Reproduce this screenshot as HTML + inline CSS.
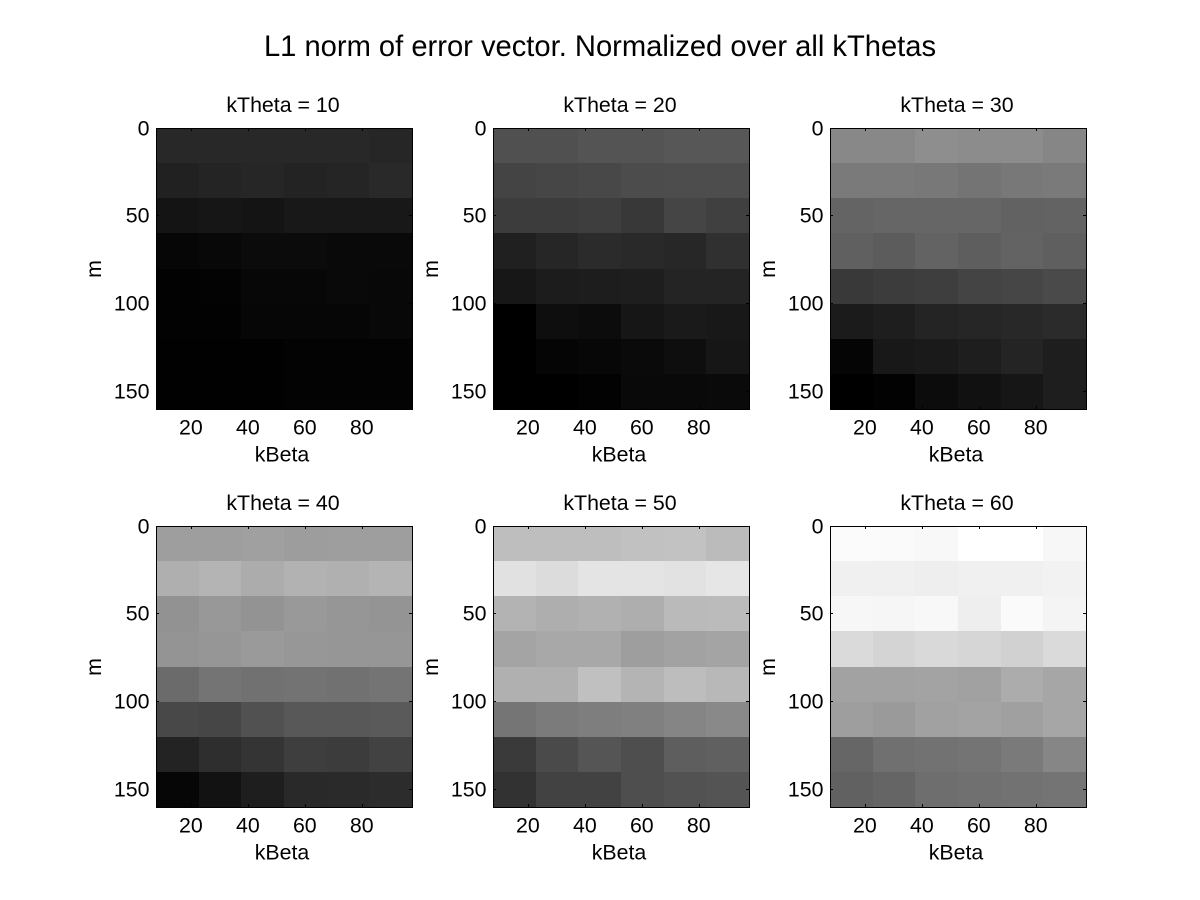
<!DOCTYPE html>
<html lang="en">
<head>
<meta charset="utf-8">
<title>L1 norm of error vector</title>
<style>
  html, body { margin: 0; padding: 0; background: #fff; width: 1200px; height: 900px; overflow: hidden; }
  svg { display: block; }
  text { font-family: "Liberation Sans", Arial, sans-serif; fill: #000; }
</style>
</head>
<body>
<svg id="figure" width="1200" height="900" viewBox="0 0 1200 900" xmlns="http://www.w3.org/2000/svg">
  <rect x="0" y="0" width="1200" height="900" fill="#fff"/>
  <text x="600" y="56" text-anchor="middle" font-size="29.15">L1 norm of error vector. Normalized over all kThetas</text>
</svg>
<script>
// kBeta and m cell centres
const kBetaValues = [15, 30, 45, 60, 75, 90];
const mValues = [11, 31, 51, 71, 91, 111, 131, 151];
const xTickValues = [20, 40, 60, 80];
const yTickValues = [0, 50, 100, 150];
const panelTitles = ['kTheta = 10', 'kTheta = 20', 'kTheta = 30', 'kTheta = 40', 'kTheta = 50', 'kTheta = 60'];

// Normalized error, expressed on the 0-255 colormap index
const errorTheta10 = [
  [40, 40, 40, 40, 40, 38],
  [33, 36, 38, 35, 37, 41],
  [20, 22, 20, 24, 24, 24],
  [6, 8, 11, 11, 9, 9],
  [2, 3, 7, 7, 9, 8],
  [2, 2, 6, 6, 6, 8],
  [1, 1, 1, 3, 3, 3],
  [1, 1, 1, 3, 3, 3]
];
const errorTheta20 = [
  [80, 80, 84, 84, 87, 87],
  [68, 70, 72, 76, 77, 77],
  [60, 60, 62, 56, 69, 64],
  [32, 38, 43, 41, 39, 48],
  [23, 28, 29, 30, 36, 36],
  [0, 14, 12, 22, 26, 24],
  [0, 5, 7, 10, 14, 22],
  [0, 0, 2, 9, 9, 10]
];
const errorTheta30 = [
  [136, 136, 142, 140, 140, 134],
  [122, 122, 120, 116, 120, 122],
  [100, 102, 102, 102, 98, 99],
  [96, 92, 99, 94, 99, 95],
  [57, 60, 62, 68, 70, 74],
  [27, 30, 36, 38, 40, 43],
  [5, 24, 26, 30, 36, 30],
  [0, 2, 12, 17, 22, 30]
];
const errorTheta40 = [
  [158, 158, 160, 157, 158, 158],
  [175, 180, 172, 178, 176, 180],
  [146, 152, 147, 153, 150, 148],
  [148, 150, 154, 151, 150, 150],
  [107, 116, 113, 115, 113, 116],
  [72, 70, 81, 88, 88, 90],
  [35, 46, 52, 62, 60, 66],
  [6, 18, 30, 41, 42, 44]
];
const errorTheta50 = [
  [190, 190, 190, 193, 194, 187],
  [225, 220, 228, 228, 226, 230],
  [179, 174, 177, 174, 186, 187],
  [164, 168, 168, 158, 162, 164],
  [176, 176, 192, 180, 189, 184],
  [117, 123, 126, 128, 133, 137],
  [58, 74, 85, 78, 94, 96],
  [50, 66, 66, 78, 82, 84]
];
const errorTheta60 = [
  [251, 250, 248, 255, 255, 247],
  [240, 240, 238, 240, 240, 242],
  [247, 246, 248, 238, 250, 244],
  [218, 212, 217, 214, 209, 218],
  [162, 162, 163, 161, 172, 166],
  [158, 154, 161, 163, 160, 166],
  [102, 112, 114, 116, 122, 134],
  [97, 101, 110, 112, 114, 116]
];
const panelData = [errorTheta10, errorTheta20, errorTheta30, errorTheta40, errorTheta50, errorTheta60];

const svg = document.getElementById('figure');
const NS = 'http://www.w3.org/2000/svg';
const colLeft = col => 156.3 + col * 337;
const rowTop = row => 128.3 + row * 398;
const plotW = 256.3;
const plotH = 281.6;
const cellDx = kBetaValues[1] - kBetaValues[0];
const cellDy = mValues[1] - mValues[0];
const xMin = kBetaValues[0] - cellDx / 2;
const xMax = kBetaValues[kBetaValues.length - 1] + cellDx / 2;
const yMin = mValues[0] - cellDy / 2;
const yMax = mValues[mValues.length - 1] + cellDy / 2;

function gray(v) {
  const g = Math.max(0, Math.min(255, Math.round(v)));
  return 'rgb(' + g + ',' + g + ',' + g + ')';
}

function make(tag, attrs, parent) {
  const el = document.createElementNS(NS, tag);
  for (const k in attrs) el.setAttribute(k, attrs[k]);
  parent.appendChild(el);
  return el;
}

panelData.forEach((matrix, idx) => {
  const col = idx % 3;
  const row = Math.floor(idx / 3);
  const left = colLeft(col);
  const top = rowTop(row);
  const xScale = v => left + (v - xMin) * plotW / (xMax - xMin);
  const yScale = v => top + (v - yMin) * plotH / (yMax - yMin);
  const bx0 = Math.floor(left), bx1 = Math.floor(left + plotW);
  const by0 = Math.floor(top), by1 = Math.floor(top + plotH);

  const g = make('g', {}, svg);
  
  

  const cells = make('g', { 'shape-rendering': 'crispEdges' }, g);
  
  
  matrix.forEach((rowVals, r) => {
    rowVals.forEach((val, c) => {
      const x0 = Math.floor(xScale(kBetaValues[c] - cellDx / 2));
      const x1 = Math.floor(xScale(kBetaValues[c] + cellDx / 2));
      const y0 = Math.floor(yScale(mValues[r] - cellDy / 2));
      const y1 = Math.floor(yScale(mValues[r] + cellDy / 2));
      const cell = make('rect', { x: x0, y: y0, width: x1 - x0, height: y1 - y0, fill: gray(val) }, cells);
      
      
    });
  });

  const box = make('rect', {
    x: bx0 + 0.5, y: by0 + 0.5, width: bx1 - bx0, height: by1 - by0,
    fill: 'none', stroke: '#000', 'stroke-width': 1, 'shape-rendering': 'crispEdges'
  }, g);
  
  

  xTickValues.forEach((t) => {
    const px = Math.floor(xScale(t)) + 0.5;
    [[by0, by0 + 3], [by1, by1 - 3]].forEach((ends) => {
      const tick = make('line', { x1: px, x2: px, y1: ends[0], y2: ends[1], stroke: '#000', 'stroke-width': 1, 'shape-rendering': 'crispEdges' }, g);
      
      
    });
    const label = make('text', { x: xScale(t) - 1, y: by1 + 25.3, 'text-anchor': 'middle', 'font-size': 21.33 }, g);
    
    
    label.textContent = t;
  });

  yTickValues.forEach((t) => {
    const raw = yScale(t);
    const py = Math.max(by0, Math.round(raw));
    if (raw >= by0) {
      [[bx0, bx0 + 3], [bx1, bx1 - 3]].forEach((ends) => {
        const tick = make('line', { x1: ends[0], x2: ends[1], y1: py + 0.5, y2: py + 0.5, stroke: '#000', 'stroke-width': 1, 'shape-rendering': 'crispEdges' }, g);
        
        
      });
    }
    const label = make('text', { x: bx0 - 6.5, y: py + 7.4, 'text-anchor': 'end', 'font-size': 21.33 }, g);
    
    
    label.textContent = t;
  });

  const cx = (bx0 + bx1) / 2 + 0.5;
  const cy = (by0 + by1) / 2 + 0.5;

  const title = make('text', { x: cx - 1.5, y: by0 - 16, 'text-anchor': 'middle', 'font-size': 21.33 }, g);
  
  
  title.textContent = panelTitles[idx];

  const xLabel = make('text', { x: cx - 2.5, y: by1 + 52.7, 'text-anchor': 'middle', 'font-size': 21.33 }, g);
  
  
  xLabel.textContent = 'kBeta';

  const yBase = bx0 - 55;
  const yLabel = make('text', { x: yBase, y: cy, 'text-anchor': 'middle', 'font-size': 21.33, transform: 'rotate(-90 ' + yBase + ' ' + cy + ')' }, g);
  
  
  yLabel.textContent = 'm';
});
</script>
</body>
</html>
